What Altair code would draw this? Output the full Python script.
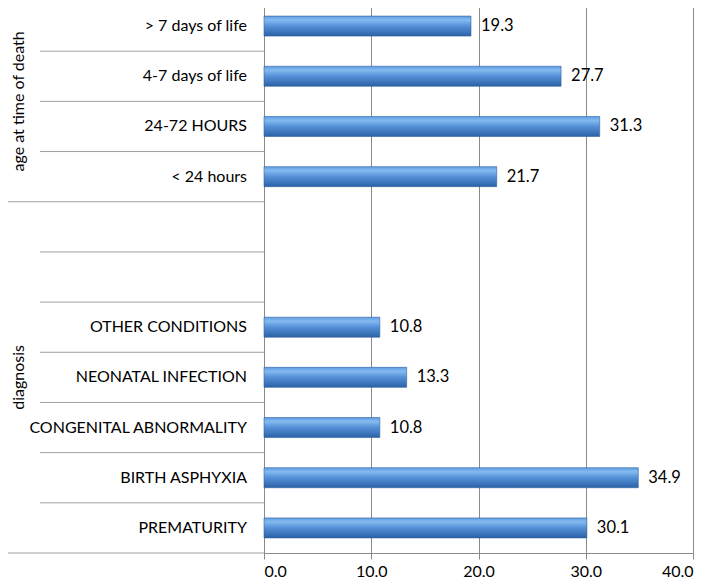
import altair as alt
import pandas as pd

# Rows top to bottom
keys = ["> 7 days of life", "4-7 days of life", "24-72 HOURS", "< 24 hours",
        "blank1", "blank2",
        "OTHER CONDITIONS", "NEONATAL INFECTION", "CONGENITAL ABNORMALITY",
        "BIRTH ASPHYXIA", "PREMATURITY"]
labels = ["> 7 days of life", "4-7 days of life", "24-72 HOURS", "< 24 hours",
          "", "",
          "OTHER CONDITIONS", "NEONATAL INFECTION", "CONGENITAL ABNORMALITY",
          "BIRTH ASPHYXIA", "PREMATURITY"]
values = [19.3, 27.7, 31.3, 21.7, None, None, 10.8, 13.3, 10.8, 34.9, 30.1]

groups = ["age at time of death", "diagnosis"]

inner_sep = ["4-7 days of life", "24-72 HOURS", "< 24 hours",
             "blank2", "OTHER CONDITIONS", "NEONATAL INFECTION",
             "CONGENITAL ABNORMALITY", "BIRTH ASPHYXIA", "PREMATURITY"]
group_sep = ["> 7 days of life", "blank1"]

x_ticks = [0, 10, 20, 30, 40]

W, H = 429, 552
FONT = "Lato"

rows = pd.DataFrame({"key": keys, "label": labels})
bars_df = pd.DataFrame({"key": keys, "value": values}).dropna()

yscale = alt.Scale(domain=keys, paddingInner=0, paddingOuter=0)
xscale = alt.Scale(domain=[0, 40], nice=False, zero=True)

grad = alt.Gradient(
    gradient="linear", x1=0, x2=0, y1=0, y2=1,
    stops=[alt.GradientStop(color="#5f9de2", offset=0),
           alt.GradientStop(color="#84baf0", offset=0.2),
           alt.GradientStop(color="#5490d8", offset=0.5),
           alt.GradientStop(color="#2c62a6", offset=1)])

base = alt.Chart(bars_df)

bars = base.mark_bar(size=20, color=grad, stroke="#2f62a0", strokeWidth=0.6).encode(
    x=alt.X("value:Q", scale=xscale,
            axis=alt.Axis(values=x_ticks, format=".1f", title=None,
                          grid=True, gridColor="#8a8a8a", gridWidth=1,
                          domainColor="#8a8a8a", tickColor="#8a8a8a", tickSize=6,
                          labelFont=FONT, labelFontSize=16, labelColor="#000000",
                          labelPadding=4)),
    y=alt.Y("key:N", scale=yscale,
            axis=alt.Axis(labels=False, ticks=False, title=None, grid=False,
                          domainColor="#8a8a8a")),
)

value_text = base.mark_text(align="left", baseline="middle", dx=10,
                            font=FONT, fontSize=16.5, color="#000000").encode(
    x=alt.X("value:Q", scale=xscale),
    y=alt.Y("key:N", scale=yscale),
    text=alt.Text("value:Q", format=".1f"),
)

row_text = alt.Chart(rows).mark_text(align="right", baseline="middle",
                                     font=FONT, fontSize=16, color="#000000").encode(
    x=alt.value(-17),
    y=alt.Y("key:N", scale=yscale),
    text="label:N",
)

inner_df = pd.DataFrame({"key": inner_sep})
inner_rules = alt.Chart(inner_df).mark_rule(color="#a0a0a0", strokeWidth=1).encode(
    x=alt.value(-224), x2=alt.value(0),
    y=alt.Y("key:N", scale=yscale, bandPosition=0),
)

gsep_df = pd.DataFrame({"key": group_sep})
group_rules = alt.Chart(gsep_df).mark_rule(color="#a0a0a0", strokeWidth=1).encode(
    x=alt.value(-270), x2=alt.value(0),
    y=alt.Y("key:N", scale=yscale, bandPosition=0),
)

bottom_df = pd.DataFrame({"key": ["PREMATURITY"]})
bottom_rule = alt.Chart(bottom_df).mark_rule(color="#a0a0a0", strokeWidth=1).encode(
    x=alt.value(-270), x2=alt.value(0),
    y=alt.Y("key:N", scale=yscale, bandPosition=1),
)

g1 = alt.Chart(pd.DataFrame({"group": [groups[0]], "key": ["24-72 HOURS"]})).mark_text(
    angle=270, align="center", baseline="middle",
    font=FONT, fontSize=16, color="#000000").encode(
    x=alt.value(-245),
    y=alt.Y("key:N", scale=yscale, bandPosition=0),
    text="group:N",
)
g2 = alt.Chart(pd.DataFrame({"group": [groups[1]], "key": ["NEONATAL INFECTION"]})).mark_text(
    angle=270, align="center", baseline="middle",
    font=FONT, fontSize=16, color="#000000").encode(
    x=alt.value(-245),
    y=alt.Y("key:N", scale=yscale),
    text="group:N",
)

chart = alt.layer(inner_rules, group_rules, bottom_rule, bars, value_text,
                  row_text, g1, g2).properties(
    width=W, height=H,
    autosize=alt.AutoSizeParams(type="none"),
    padding={"left": 256, "top": -7, "right": 7, "bottom": 25},
    background="#ffffff",
).configure_view(stroke=None)

chart.save("out.html", embed_options={"renderer": "svg", "actions": False})
